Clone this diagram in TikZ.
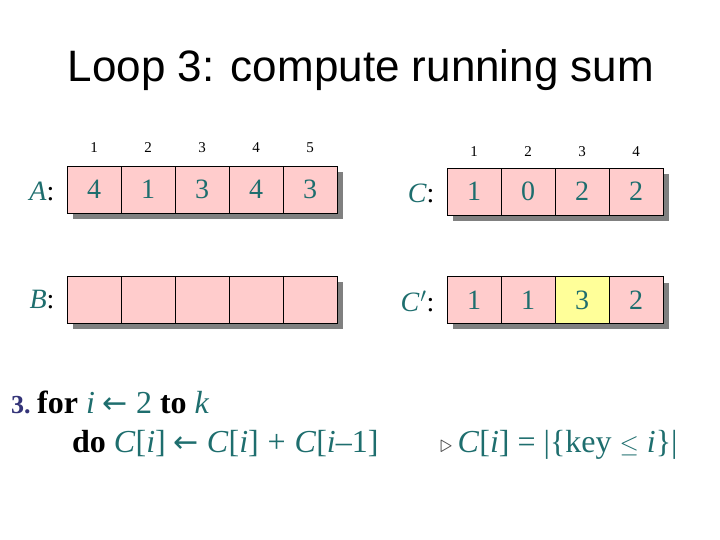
\documentclass[tikz,border=0pt]{standalone}
\usepackage{fontspec}
\setmainfont{Liberation Serif}
\newfontfamily\titlefont{Liberation Sans}
\newfontfamily\arrowfont{DejaVu Sans}
\newcommand{\larr}{\hspace{8pt}{\arrowfont\fontsize{30}{30}\selectfont ←}\hspace{8pt}}
\begin{document}
\begin{tikzpicture}[x=1pt,y=-1pt,
  cell/.style={draw=black,line width=0.8pt,minimum width=54pt,minimum height=47pt,inner sep=0pt,fill=cellpink,font=\fontsize{28}{28}\selectfont,text=teal1},
  idx/.style={font=\fontsize{15}{15}\selectfont,text=black},
  lab/.style={anchor=east,font=\fontsize{28}{28}\selectfont},
  code/.style={anchor=base west,inner sep=0pt,font=\fontsize{32}{32}\selectfont}]
\definecolor{cellpink}{RGB}{255,204,204}
\definecolor{cellyellow}{RGB}{255,255,153}
\definecolor{teal1}{RGB}{30,110,110}
\definecolor{shadowgray}{RGB}{128,128,128}
\definecolor{numblue}{RGB}{51,51,120}
\useasboundingbox (0,0) rectangle (720,540);
\fill[white] (0,0) rectangle (720,540);
% title
\node[font=\titlefont\fontsize{44}{44}\selectfont] (title) at (361,70) {Loop 3: compute running sum};
% shadows
\fill[shadowgray] (73,172) rectangle (343,219);
\fill[shadowgray] (73,282) rectangle (343,329);
\fill[shadowgray] (453,174) rectangle (669,221);
\fill[shadowgray] (453,283) rectangle (669,329);
% A
\foreach \v [count=\k] in {4,1,3,4,3}{
  \node[cell] (a\k) at (40+54*\k,189.5) {\v};
  \node[idx] (ai\k) at (40+54*\k,148) {\k};
}
\node[lab] (al) at (58,191) {\textcolor{teal1}{\textit{A}}:};
% B
\foreach \k in {1,...,5}{
  \node[cell] (b\k) at (40+54*\k,299.5) {};
}
\node[lab] (bl) at (58,300) {\textcolor{teal1}{\textit{B}}:};
% C
\foreach \v [count=\k] in {1,0,2,2}{
  \node[cell] (c\k) at (420+54*\k,191.5) {\v};
  \node[idx] (ci\k) at (420+54*\k,152) {\k};
}
\node[lab] (cl) at (438,193) {\textcolor{teal1}{\textit{C}}:};
% C'
\foreach \v [count=\k] in {1,1,3,2}{
  \node[cell] (d\k) at (420+54*\k,300) {\v};
}
\node[cell,fill=cellyellow] (d3) at (582,300) {3};
\node[lab] (dl) at (438,301) {\textcolor{teal1}{\textit{C}}\kern1pt\textcolor{teal1}{$'$}:};
% pseudocode
\node[anchor=base west,inner sep=0pt,font=\fontsize{26}{26}\selectfont\bfseries,text=numblue] (n3) at (11,413) {3.};
\node[code] (l1) at (37,413)
  {\textbf{for} \textcolor{teal1}{\textit{i}\larr 2} \textbf{to} \textcolor{teal1}{\textit{k}}};
\node[code] (l2) at (72,452)
  {\textbf{do} \textcolor{teal1}{\textit{C}[\textit{i}]\larr\textit{C}[\textit{i}]\;+\;\textit{C}[\textit{i}--1]}};
\node[code] (l3) at (440,452)
  {\textcolor{black!70}{\fontsize{24}{24}\selectfont$\triangleright$}\,\textcolor{teal1}{\textit{C}[\textit{i}] = |\{key $\le$ \textit{i}\}|}};
\end{tikzpicture}
\end{document}
